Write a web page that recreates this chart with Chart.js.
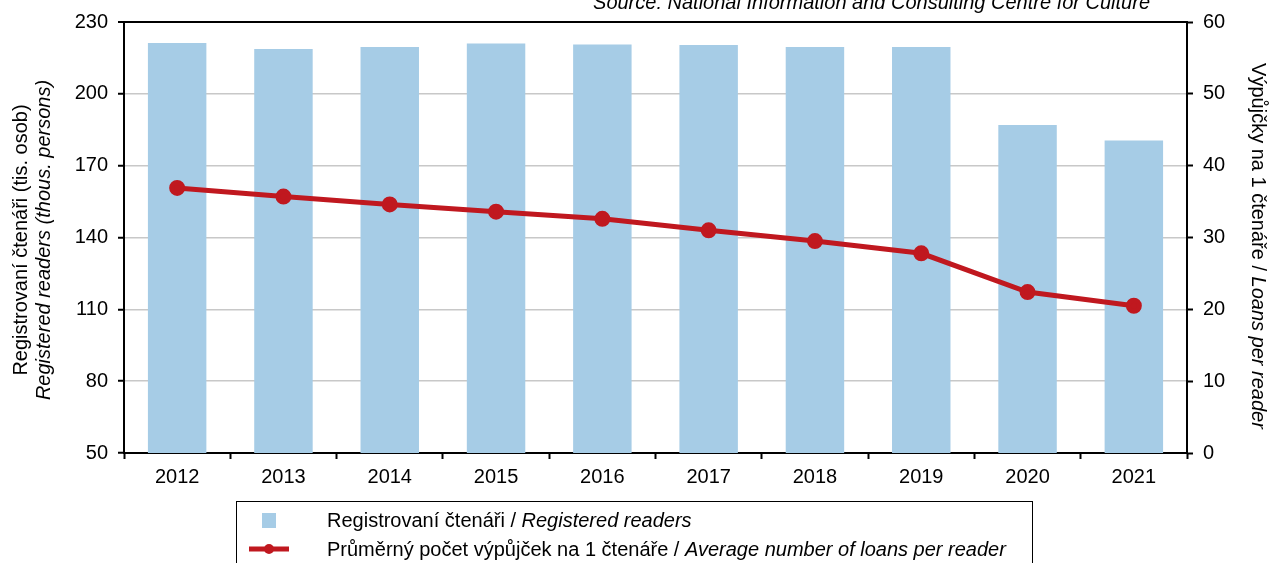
<!DOCTYPE html>
<html>
<head>
<meta charset="utf-8">
<script src="https://cdn.jsdelivr.net/npm/chart.js@4"></script>
<style>
html,body{margin:0;padding:0;background:#fff;overflow:hidden;}
#wrap{position:relative;width:1270px;height:563px;}
</style>
</head>
<body>
<div id="wrap"><canvas id="chart" width="1270" height="563"></canvas></div>
<script>
const years=['2012','2013','2014','2015','2016','2017','2018','2019','2020','2021'];
const readers=[221.2,218.7,219.6,221.0,220.6,220.4,219.6,219.6,187.0,180.5];
const loansPerReader=[36.9,35.7,34.6,33.6,32.6,31.0,29.5,27.8,22.4,20.5];

const FONT='"Liberation Sans", Arial, sans-serif';
const barColor='#a6cce6';
const lineColor='#c0181f';
const TXT=20;

// draws text made of normal + italic parts, starting at x
function mixedText(ctx,parts,x,y,size){
    let cx=x;
    parts.forEach(p=>{
        ctx.font=(p.it?'italic ':'')+size+'px '+FONT;
        ctx.fillText(p.t,cx,y);
        cx+=ctx.measureText(p.t).width;
    });
}
function mixedWidth(ctx,parts,size){
    let w=0;
    parts.forEach(p=>{
        ctx.font=(p.it?'italic ':'')+size+'px '+FONT;
        w+=ctx.measureText(p.t).width;
    });
    return w;
}
function rotatedTitle(ctx,parts,x,y,angle){
    ctx.save();
    ctx.translate(x,y);
    ctx.rotate(angle);
    mixedText(ctx,parts,-mixedWidth(ctx,parts,TXT)/2,0,TXT);
    ctx.restore();
}

const extras={
    id:'extras',
    afterDraw(chart){
        const ctx=chart.ctx;
        ctx.save();
        ctx.fillStyle='#000';
        ctx.textBaseline='middle';

        // source line
        ctx.textAlign='right';
        ctx.font='italic '+TXT+'px '+FONT;
        ctx.fillText('Source: National Information and Consulting Centre for Culture',1150,3);

        // axis titles
        ctx.textAlign='left';
        rotatedTitle(ctx,[{t:'Registrovaní čtenáři (tis. osob)'}],21,240,-Math.PI/2);
        rotatedTitle(ctx,[{t:'Registered readers (thous. persons)',it:true}],44,240,-Math.PI/2);
        rotatedTitle(ctx,[{t:'Výpůjčky na 1 čtenáře / '},{t:'Loans per reader',it:true}],1258,246,Math.PI/2);

        // legend box
        ctx.strokeStyle='#000';
        ctx.lineWidth=1;
        ctx.strokeRect(236.5,501.5,796,80);
        ctx.fillStyle=barColor;
        ctx.fillRect(262,513,14,15);
        ctx.strokeStyle=lineColor;
        ctx.lineWidth=5;
        ctx.beginPath();ctx.moveTo(249,549);ctx.lineTo(289,549);ctx.stroke();
        ctx.fillStyle=lineColor;
        ctx.beginPath();ctx.arc(269,549,5,0,Math.PI*2);ctx.fill();
        ctx.fillStyle='#000';
        mixedText(ctx,[{t:'Registrovaní čtenáři / '},{t:'Registered readers',it:true}],327,521,TXT);
        mixedText(ctx,[{t:'Průměrný počet výpůjček na 1 čtenáře / '},{t:'Average number of loans per reader',it:true}],327,550,TXT);
        ctx.restore();
    }
};

new Chart(document.getElementById('chart'),{
    type:'bar',
    data:{
        labels:years,
        datasets:[
            {type:'line',label:'Průměrný počet výpůjček na 1 čtenáře',data:loansPerReader,yAxisID:'y2',
             borderColor:lineColor,backgroundColor:lineColor,borderWidth:5,pointRadius:5.5,pointHoverRadius:5.5,order:0},
            {type:'bar',label:'Registrovaní čtenáři',data:readers,yAxisID:'y',
             backgroundColor:barColor,barPercentage:0.55,categoryPercentage:1,order:1}
        ]
    },
    plugins:[extras],
    options:{
        responsive:false,
        animation:false,
        layout:{padding:{top:22,left:0,right:0,bottom:0}},
        plugins:{legend:{display:false},tooltip:{enabled:false}},
        scales:{
            x:{
                grid:{drawOnChartArea:false,tickLength:6,tickColor:'#000',tickWidth:2,offset:true},
                border:{color:'#000',width:2},
                ticks:{color:'#000',font:{family:FONT,size:TXT},padding:6},
                afterFit(s){s.height=110;}
            },
            y:{
                position:'left',min:50,max:230,
                ticks:{stepSize:30,color:'#000',font:{family:FONT,size:TXT},padding:10},
                grid:{color:c=>c.tick&&c.tick.value===230?'#000':'#c8c8c8',lineWidth:c=>c.tick&&c.tick.value===230?2:1.5,
                      tickLength:6,tickColor:'#000',tickWidth:2},
                border:{color:'#000',width:2},
                afterFit(s){s.width=124;}
            },
            y2:{
                position:'right',min:0,max:60,
                ticks:{stepSize:10,color:'#000',font:{family:FONT,size:TXT},padding:10},
                grid:{drawOnChartArea:false,tickLength:6,tickColor:'#000',tickWidth:2},
                border:{color:'#000',width:2},
                afterFit(s){s.width=83;}
            }
        }
    }
});
</script>
</body>
</html>
